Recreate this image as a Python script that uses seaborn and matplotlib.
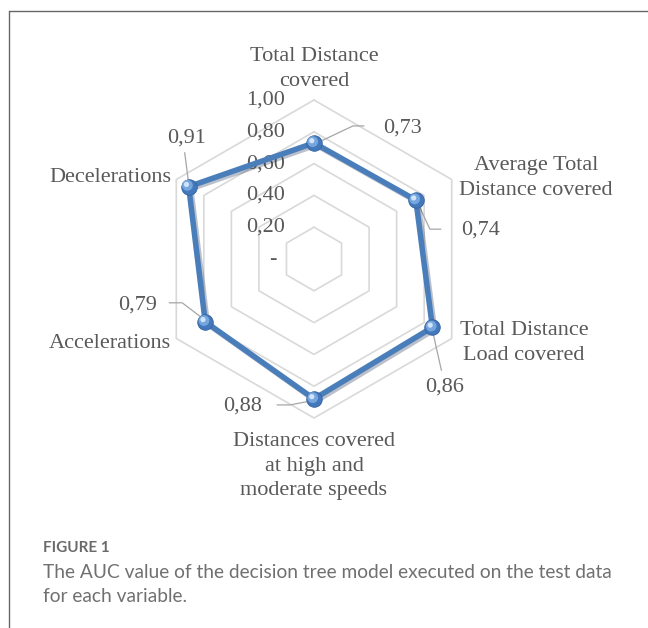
import numpy as np
import pandas as pd
import matplotlib
matplotlib.use("Agg")
import matplotlib.pyplot as plt
import matplotlib.patheffects as pe
from matplotlib.lines import Line2D
import seaborn as sns

# ---- data ----
categories = ["Total Distance\ncovered", "Average Total\nDistance covered",
              "Total Distance\nLoad covered",
              "Distances covered\nat high and\nmoderate speeds",
              "Accelerations", "Decelerations"]
auc_values = [0.73, 0.74, 0.86, 0.88, 0.79, 0.91]
value_labels = ["0,73", "0,74", "0,86", "0,88", "0,79", "0,91"]
ring_values = [0.2, 0.4, 0.6, 0.8, 1.0]
ring_labels = ["0,20", "0,40", "0,60", "0,80", "1,00"]
zero_label = "-"
caption_title = "FIGURE 1"
caption_text = ("The AUC value of the decision tree model executed on the test data\n"
                "for each variable.")

sns.set_theme(style="white")
plt.rcParams['font.family'] = ['Liberation Serif', 'DejaVu Serif']

W, H = 648, 628
CX, CY, R = 314, 259, 159   # centre and radius in pixels (layout)

fig = plt.figure(figsize=(W / 100, H / 100), dpi=100)
ax = fig.add_axes([0, 0, 1, 1])
ax.set_xlim(-CX / R, (W - CX) / R)
ax.set_ylim((CY - H) / R, CY / R)
ax.axis("off")


def px(x, y):
    """pixel (top-left origin) -> data coords"""
    return (x - CX) / R, (CY - y) / R


n = len(categories)
theta = np.arange(n) * 2 * np.pi / n


def polar_xy(r):
    r = np.asarray(r, dtype=float)
    return r * np.sin(theta), r * np.cos(theta)


TXT = "#595959"
GRID = "#d9d9d9"
BLUE = "#4a7ebb"

# grid hexagons
for rv in ring_values:
    gx, gy = polar_xy(np.full(n, rv))
    gdf = pd.DataFrame({"x": np.append(gx, gx[0]), "y": np.append(gy, gy[0])})
    sns.lineplot(data=gdf, x="x", y="y", sort=False, ax=ax, color=GRID,
                 linewidth=1.2, estimator=None, zorder=1)

# radial tick labels
for rv, lab in zip(ring_values, ring_labels):
    tx, ty = px(285, CY - rv * R)
    ax.text(tx, ty, lab, ha="right", va="center", fontsize=16, color=TXT, zorder=2)
tx, ty = px(276, CY)
ax.text(tx, ty, zero_label, ha="right", va="center", fontsize=16, color=TXT, zorder=2)

# data polygon
vx, vy = polar_xy(auc_values)
df = pd.DataFrame({"x": np.append(vx, vx[0]), "y": np.append(vy, vy[0])})
sns.lineplot(data=df, x="x", y="y", sort=False, ax=ax, color=BLUE,
             linewidth=4.0, estimator=None, zorder=4,
             path_effects=[pe.SimpleLineShadow(offset=(1.5, -1.5), shadow_color="#203050", alpha=0.3),
                           pe.Normal()])
# sphere markers
pts = pd.DataFrame({"x": vx, "y": vy})
sns.scatterplot(data=pts, x="x", y="y", ax=ax, s=125, color="#4478bd",
                edgecolor="#33639f", linewidth=0.6, zorder=5)
sns.scatterplot(x=vx - 0.008, y=vy + 0.008, ax=ax, s=60, color="#76a6de",
                edgecolor="none", zorder=6)
sns.scatterplot(x=vx - 0.014, y=vy + 0.014, ax=ax, s=14, color="#d2e4fb",
                edgecolor="none", zorder=7)

# leader lines (pixel offsets from marker) and value labels (layout)
leaders = [
    [(3, 0), (39, -17), (50, -17)],
    [(2, 3), (14, 29), (25, 29)],
    [(0, 3), (9, 43)],
    [(-3, 2), (-24, 6), (-37, 6)],
    [(-2, -3), (-23, -19), (-36, -19)],
    [(0, -3), (-4, -34)],
]
label_pos = [  # (x offset, y offset, ha)
    (69, -15, "left"), (45, 30, "left"), (12, 60, "center"),
    (-52, 7, "right"), (-48, -17, "right"), (-2, -49, "center"),
]
for i in range(n):
    mx = CX + vx[i] * R
    my = CY - vy[i] * R
    seg = [px(mx + dx, my + dy) for dx, dy in leaders[i]]
    ax.add_line(Line2D([s[0] for s in seg], [s[1] for s in seg],
                       color="#a6a6a6", linewidth=0.9, zorder=3))
    ox, oy, ha = label_pos[i]
    lx, ly = px(mx + ox, my + oy)
    ax.text(lx, ly, value_labels[i], ha=ha, va="center", fontsize=16,
            color=TXT, zorder=8)

# category labels (layout)
cat_pos = [(314, 69, "center"), (536, 178, "center"), (524, 343, "center"),
           (314, 466, "center"), (171, 344, "right"), (171, 178, "right")]
for lab, (x, y, ha) in zip(categories, cat_pos):
    lx, ly = px(x, y)
    ax.text(lx, ly, lab, ha=ha, va="center", fontsize=16, color=TXT,
            linespacing=1.4, multialignment="center", zorder=8)

# frame
fig.add_artist(Line2D([9 / W, 1], [1 - 11 / H, 1 - 11 / H], transform=fig.transFigure,
                      color="#666666", linewidth=1.0))
fig.add_artist(Line2D([9 / W, 9 / W], [0, 1 - 11 / H], transform=fig.transFigure,
                      color="#666666", linewidth=1.0))

# caption
fig.text(43 / W, 1 - 548 / H, caption_title, ha="left", va="center",
         fontsize=11, color="#6a6a6a", family=["Lato", "DejaVu Sans"], fontweight="bold")
fig.text(43 / W, 1 - 584 / H, caption_text, ha="left", va="center",
         fontsize=13.8, color="#707070", family=["Lato", "DejaVu Sans"], linespacing=1.5)

fig.savefig("out.png", dpi=100)
